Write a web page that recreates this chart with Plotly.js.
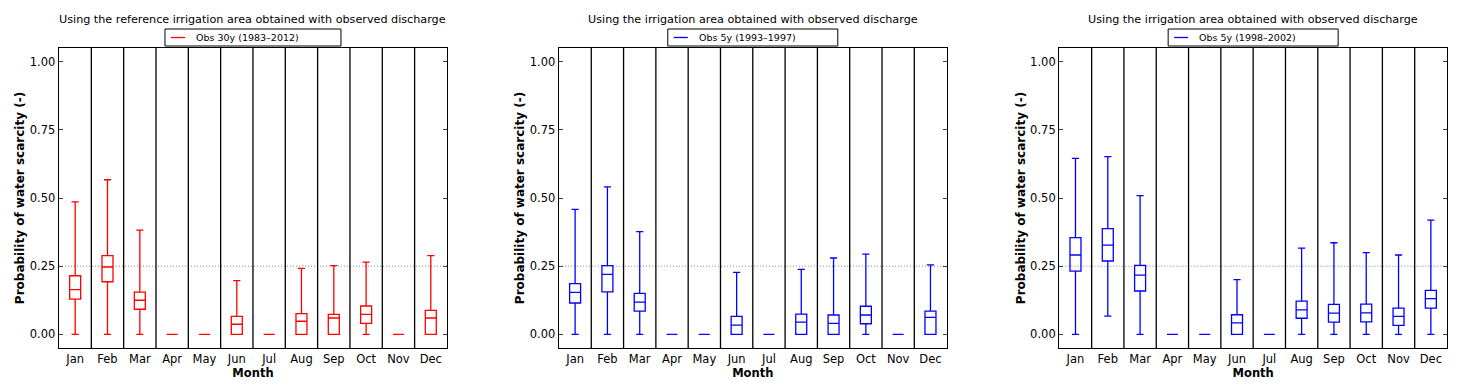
<!DOCTYPE html>
<html>
<head>
<meta charset="utf-8">
<script src="https://cdn.plot.ly/plotly-3.0.1.min.js"></script>
<style>
  body { margin: 0; background: #fff; }
  #grafico { width: 1462px; height: 392px; }
</style>
</head>
<body>
<div id="grafico"></div>
<script>
// months on the x axis
var meses = ['Jan', 'Feb', 'Mar', 'Apr', 'May', 'Jun', 'Jul', 'Aug', 'Sep', 'Oct', 'Nov', 'Dec'];
var ticksY = [0, 0.25, 0.5, 0.75, 1.0];
var ticksYTexto = ['0.00', '0.25', '0.50', '0.75', '1.00'];

// panel 1: Obs 30y (1983-2012)
var obs30Min = [0, 0, 0, 0, 0, 0, 0, 0, 0, 0, 0, 0];
var obs30Q1 = [0.129, 0.193, 0.092, 0, 0, 0, 0, 0, 0, 0.040, 0, 0];
var obs30Med = [0.164, 0.247, 0.125, 0, 0, 0.037, 0, 0.048, 0.060, 0.073, 0, 0.060];
var obs30Q3 = [0.215, 0.289, 0.155, 0, 0, 0.066, 0, 0.076, 0.073, 0.104, 0, 0.088];
var obs30Max = [0.486, 0.567, 0.382, 0, 0, 0.197, 0, 0.242, 0.252, 0.265, 0, 0.289];

// panel 2: Obs 5y (1993-1997)
var obsA5Min = [0, 0, 0, 0, 0, 0, 0, 0, 0, 0, 0, 0];
var obsA5Q1 = [0.115, 0.156, 0.085, 0, 0, 0, 0, 0, 0, 0.039, 0, 0];
var obsA5Med = [0.154, 0.220, 0.118, 0, 0, 0.034, 0, 0.045, 0.040, 0.071, 0, 0.062];
var obsA5Q3 = [0.186, 0.252, 0.150, 0, 0, 0.066, 0, 0.074, 0.071, 0.103, 0, 0.085];
var obsA5Max = [0.458, 0.541, 0.377, 0, 0, 0.227, 0, 0.238, 0.280, 0.294, 0, 0.255];

// panel 3: Obs 5y (1998-2002)
var obsB5Min = [0, 0.067, 0, 0, 0, 0, 0, 0, 0, 0, 0, 0];
var obsB5Q1 = [0.232, 0.269, 0.159, 0, 0, 0, 0, 0.059, 0.045, 0.046, 0.033, 0.096];
var obsB5Med = [0.291, 0.327, 0.217, 0, 0, 0.042, 0, 0.090, 0.078, 0.079, 0.066, 0.131];
var obsB5Q3 = [0.355, 0.388, 0.253, 0, 0, 0.072, 0, 0.122, 0.110, 0.111, 0.096, 0.161];
var obsB5Max = [0.645, 0.652, 0.509, 0, 0, 0.201, 0, 0.316, 0.336, 0.300, 0.291, 0.419];

var paineis = [
    {nome: 'Obs 30y (1983\u20132012)', cor: 'red', titulo: 'Using the reference irrigation area obtained with observed discharge',
     min: obs30Min, q1: obs30Q1, med: obs30Med, q3: obs30Q3, max: obs30Max, dominio: [0, 0.2795], larguraLeg: 176},
    {nome: 'Obs 5y (1993\u20131997)', cor: 'blue', titulo: 'Using the irrigation area obtained with observed discharge',
     min: obsA5Min, q1: obsA5Q1, med: obsA5Med, q3: obsA5Q3, max: obsA5Max, dominio: [0.3602, 0.6395], larguraLeg: 170},
    {nome: 'Obs 5y (1998\u20132002)', cor: 'blue', titulo: 'Using the irrigation area obtained with observed discharge',
     min: obsB5Min, q1: obsB5Q1, med: obsB5Med, q3: obsB5Q3, max: obsB5Max, dominio: [0.7207, 1], larguraLeg: 170}
];

var fonte = 'DejaVu Sans, sans-serif';
var margem = {l: 59, r: 15, t: 48, b: 44};
var larguraPapel = 1462 - margem.l - margem.r;
var alturaPapel = 392 - margem.t - margem.b;
// pixel offsets -> paper fraction
function px(dx) { return dx / larguraPapel; }
function py(dy) { return dy / alturaPapel; }

var dados = [];
var layout = {
    width: 1462, height: 392,
    margin: margem,
    paper_bgcolor: 'white', plot_bgcolor: 'white',
    font: {family: fonte, color: 'black'},
    showlegend: false,
    shapes: [], annotations: []
};

paineis.forEach(function (p, i) {
    var n = i === 0 ? '' : String(i + 1);
    var eixoX = 'x' + n, eixoY = 'y' + n;
    var centro = (p.dominio[0] + p.dominio[1]) / 2;

    dados.push({
        type: 'box', x: meses,
        lowerfence: p.min, q1: p.q1, median: p.med, q3: p.q3, upperfence: p.max,
        xaxis: eixoX, yaxis: eixoY,
        width: 0.34, whiskerwidth: 0.65,
        line: {color: p.cor, width: 1.3},
        fillcolor: 'rgba(0,0,0,0)',
        boxpoints: false, showlegend: false, hoverinfo: 'skip', name: p.nome
    });

    layout['xaxis' + n] = {
        domain: p.dominio, anchor: eixoY,
        type: 'category', categoryorder: 'array', categoryarray: meses,
        range: [-0.5, 11.5],
        showline: true, mirror: true, linecolor: 'black', linewidth: 1.3,
        showgrid: false, zeroline: false, ticks: '',
        tickfont: {size: 11.5, family: fonte},
        title: {text: 'Month', font: {size: 11.5, family: fonte, weight: 'bold'}, standoff: 2}
    };
    layout['yaxis' + n] = {
        anchor: eixoX, range: [-0.05, 1.05],
        tickvals: ticksY, ticktext: ticksYTexto,
        showline: true, mirror: 'ticks', linecolor: 'black', linewidth: 1.3,
        ticks: 'inside', ticklen: 4, tickcolor: '#444', tickwidth: 1,
        showgrid: false, zeroline: false,
        tickfont: {size: 11.5, family: fonte},
        title: {text: 'Probability of water scarcity (-)', font: {size: 12, family: fonte, weight: 'bold'}, standoff: 2}
    };

    // month separators
    for (var k = 0; k < meses.length - 1; k++) {
        layout.shapes.push({
            type: 'line', xref: eixoX, yref: eixoY + ' domain',
            x0: k + 0.5, x1: k + 0.5, y0: 0, y1: 1,
            line: {color: 'black', width: 1.3}
        });
    }
    // threshold line 0.25
    layout.shapes.push({
        type: 'line', xref: eixoX + ' domain', yref: eixoY,
        x0: 0, x1: 1, y0: 0.25, y1: 0.25,
        line: {color: '#888', width: 1, dash: '1px,2px'}, layer: 'below'
    });

    // legend box (matplotlib style, line sample)
    var esq = centro - px(p.larguraLeg / 2), dir = centro + px(p.larguraLeg / 2);
    var base = 1 + py(2), topo = 1 + py(19), meio = 1 + py(10.5);
    layout.shapes.push({
        type: 'rect', xref: 'paper', yref: 'paper',
        x0: esq, x1: dir, y0: base, y1: topo,
        line: {color: 'black', width: 1}, fillcolor: 'white'
    });
    layout.shapes.push({
        type: 'line', xref: 'paper', yref: 'paper',
        x0: esq + px(6), x1: esq + px(20), y0: meio, y1: meio,
        line: {color: p.cor, width: 1.3}
    });
    layout.annotations.push({
        text: p.nome, xref: 'paper', yref: 'paper',
        x: esq + px(29), xanchor: 'left', y: meio, yanchor: 'middle',
        showarrow: false, font: {size: 9.5, family: fonte}
    });

    layout.annotations.push({
        text: p.titulo, xref: 'paper', yref: 'paper',
        x: centro, xanchor: 'center',
        y: 1, yanchor: 'bottom', yshift: 20, showarrow: false,
        font: {size: 11.2, family: fonte}
    });
});

Plotly.newPlot('grafico', dados, layout, {staticPlot: true});
</script>
</body>
</html>
